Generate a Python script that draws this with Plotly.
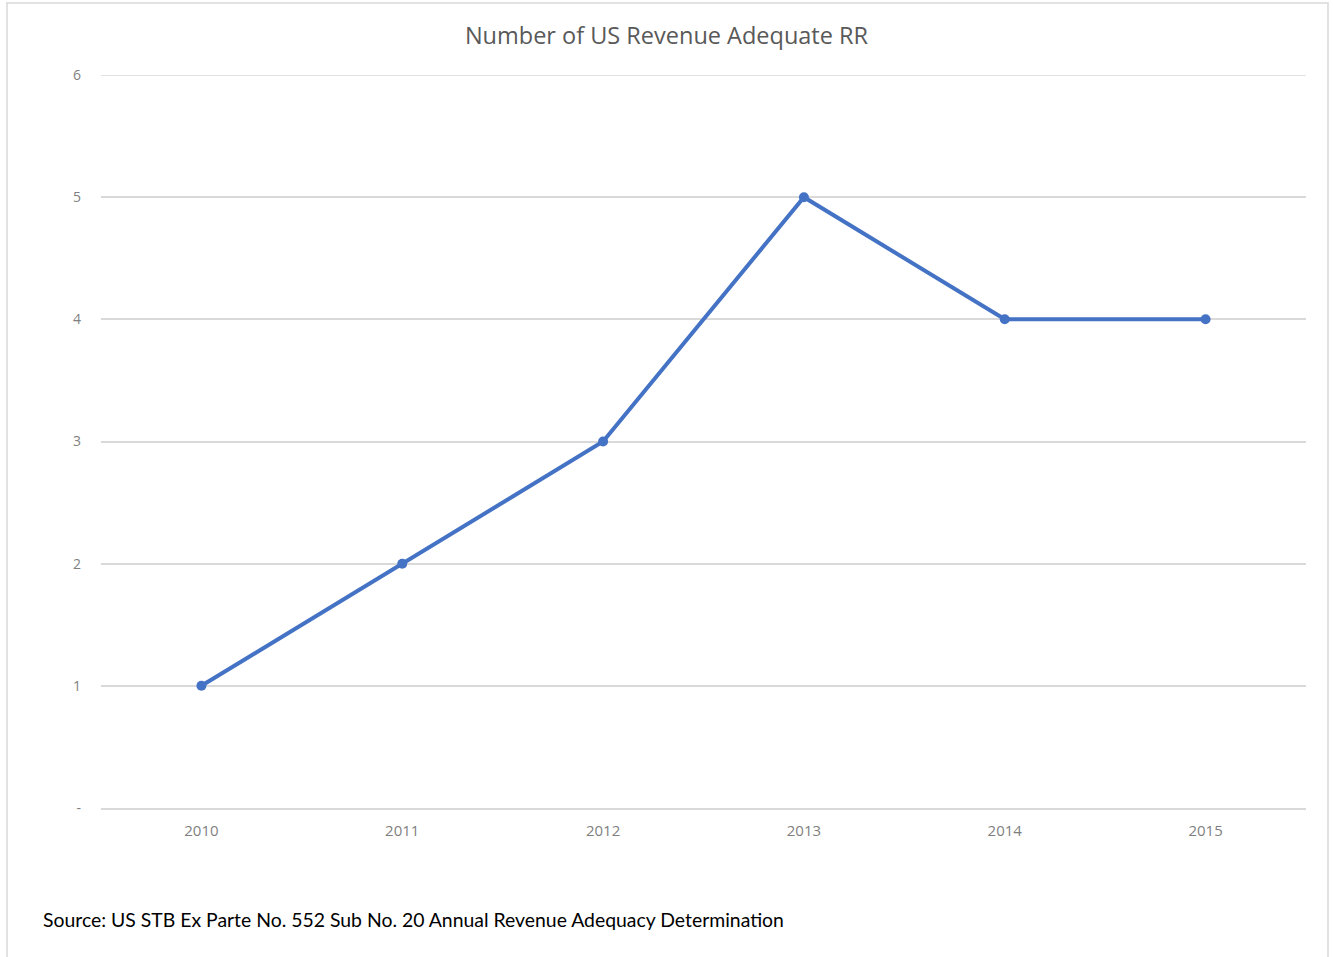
import plotly.graph_objects as go

years = ["2010", "2011", "2012", "2013", "2014", "2015"]
counts = [1, 2, 3, 5, 4, 4]
y_ticks = [0, 1, 2, 3, 4, 5, 6]
y_tick_text = ["-", "1", "2", "3", "4", "5", "6"]

W, H = 1333, 957
L, R, T, B = 101, 1306, 75, 808
pw, ph = R - L, B - T
YMAX = 6.0

def px(x):
    return (x - L) / pw

def py(y):
    return (B - y) / ph

FONT = "'Open Sans', Lato, sans-serif"

fig = go.Figure()
fig.add_trace(go.Scatter(
    x=years, y=counts, mode="lines+markers",
    line=dict(color="#4472C4", width=4),
    marker=dict(color="#4472C4", size=10),
    showlegend=False,
    cliponaxis=False,
))

fig.update_layout(
    width=W, height=H,
    margin=dict(l=L, r=W - R, t=T, b=H - B),
    paper_bgcolor="white", plot_bgcolor="white",
    font=dict(family=FONT, color="#7f7f7f"),
    title=dict(text="Number of US Revenue Adequate RR", x=0.5, xanchor="center",
               y=1 - 36 / H, yanchor="middle",
               font=dict(size=23.5, color="#595959", family=FONT)),
    xaxis=dict(type="category", range=[-0.5, 5.5], showgrid=False,
               showline=True, linecolor="#d9d9d9", linewidth=1.5,
               ticks="", tickfont=dict(size=15, color="#7f7f7f"),
               ticklabelstandoff=8, fixedrange=True),
    yaxis=dict(range=[0, YMAX], tickvals=y_ticks, ticktext=y_tick_text,
               showgrid=True, gridcolor="#d9d9d9", gridwidth=1.5,
               zeroline=False, showline=False, ticks="",
               tickfont=dict(size=14, color="#7f7f7f"),
               ticklabelstandoff=19, fixedrange=True),
    shapes=[
        dict(type="rect", xref="paper", yref="paper",
             x0=px(7), x1=px(1328), y0=py(965), y1=py(3),
             line=dict(color="#d9d9d9", width=1.5), fillcolor="rgba(0,0,0,0)",
             layer="below"),
        dict(type="line", xref="paper", yref="y", x0=0, x1=1, y0=YMAX, y1=YMAX,
             line=dict(color="#d9d9d9", width=1.5), layer="below"),
    ],
    annotations=[dict(text="Source: US STB Ex Parte No. 552 Sub No. 20 Annual Revenue Adequacy Determination",
                      xref="paper", yref="paper", x=px(41), y=py(919),
                      xanchor="left", yanchor="middle", showarrow=False,
                      font=dict(size=19.4, color="#000000", family="Lato, sans-serif"))],
)

fig.write_html("out.html", config={"displayModeBar": False},
               post_script="document.body.style.margin='0';")
